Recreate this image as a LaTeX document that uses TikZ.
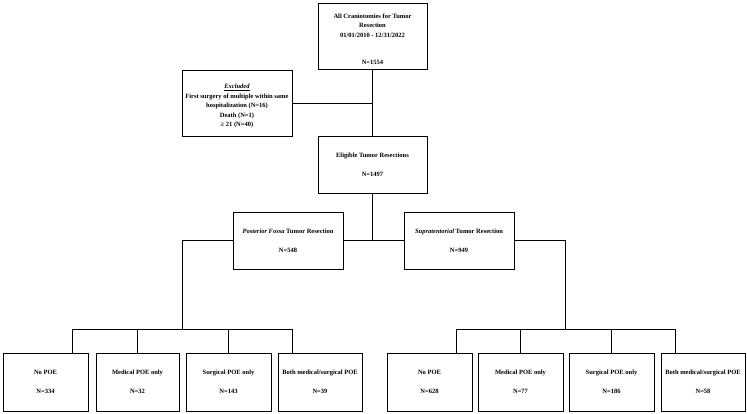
\documentclass[tikz,border=0pt]{standalone}
\usepackage{fontspec}
\setmainfont{Liberation Serif}
\usetikzlibrary{positioning}
\begin{document}
\begin{tikzpicture}[x=1pt, y=-1pt,
  box/.style={draw, line width=0.8pt, align=center, inner sep=0pt, minimum height=57pt, minimum width=110pt, font=\fontsize{6.5}{9.5}\selectfont\bfseries},
  small/.style={box, minimum width=85pt, minimum height=58pt},
  link/.style={line width=0.8pt}]
\useasboundingbox (0,0) rectangle (747,413);
\node[box, minimum width=109pt, minimum height=66pt] (all) at (372.5,36) {\rule{0pt}{11pt}All Craniotomies for Tumor\\Resection\\01/01/2010 - 12/31/2022\\[17.5pt]N=1554};
\node[box, minimum height=66pt] (excl) at (237,103) {\rule{0pt}{11pt}\underline{\textit{Excluded}}\\First surgery of multiple within same\\hospitalization (N=16)\\Death (N=1)\\≥ 21 (N=40)};
\node[box, minimum width=109pt] (elig) at (372.5,164.5) {Eligible Tumor Resections\\[9.5pt]N=1497};
\node[box] (post) at (288,240.5) {\textit{Posterior Fossa} Tumor Resection\\[9.5pt]N=548};
\node[box] (supra) at (459,240.5) {\textit{Supratentorial} Tumor Resection\\[9.5pt]N=949};
% outcome boxes, posterior fossa side
\node[small] (lnone) at (45.5,382) {No POE\\[9.5pt]N=334};
\node[small, minimum width=83pt] (lmed) at (137.5,382) {Medical POE only\\[9.5pt]N=32};
\node[small] (lsurg) at (228.5,382) {Surgical POE only\\[9.5pt]N=143};
\node[small, minimum width=84pt] (lboth) at (320,382) {Both medical/surgical POE\\[9.5pt]N=39};
% outcome boxes, supratentorial side
\node[small] (rnone) at (429.5,382) {No POE\\[9.5pt]N=628};
\node[small] (rmed) at (520.5,382) {Medical POE only\\[9.5pt]N=77};
\node[small] (rsurg) at (611.5,382) {Surgical POE only\\[9.5pt]N=186};
\node[small, minimum width=84pt] (rboth) at (703,382) {Both medical/surgical POE\\[9.5pt]N=58};

\draw[link] (all) -- (elig);
\draw[link] (excl) -- (excl -| all);
\draw[link] (elig) -- (elig |- post);
\draw[link] (post) -- (supra);
\coordinate (lmid) at (182,329);
\coordinate (rmid) at (565.5,329);
\draw[link] (post) -| (lmid);
\draw[link] (supra) -| (rmid);
\foreach \n/\x in {lnone/72, lmed/137.5, lsurg/228.5, lboth/292, rnone/456, rmed/520.5, rsurg/611.5, rboth/675} {
  \coordinate (\n-drop) at (\x,329);
  \draw[link] (\n-drop) -- (\n-drop |- \n.north);
}
\draw[link] (lnone-drop) -- (lboth-drop);
\draw[link] (rnone-drop) -- (rboth-drop);
\end{tikzpicture}
\end{document}
